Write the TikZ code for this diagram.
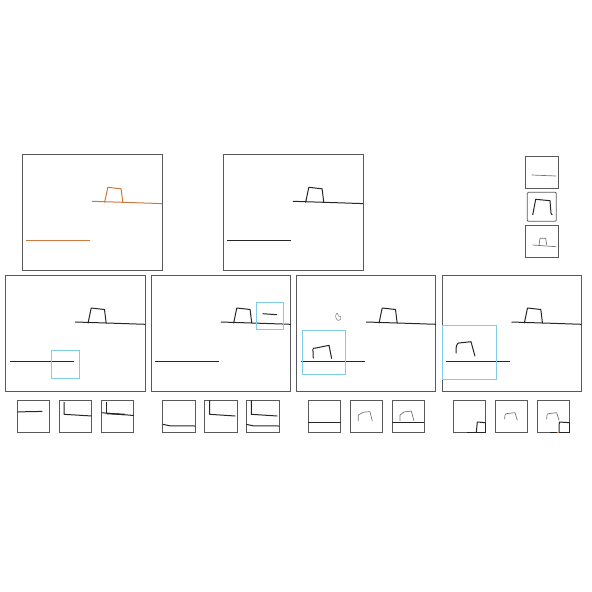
\documentclass[tikz,border=0pt]{standalone}
\begin{document}
\begin{tikzpicture}[x=1pt,y=-1pt,
  frame/.style={draw=black!65,line width=0.9pt},
  sbox/.style={draw=black!65,line width=0.8pt},
  ink/.style={draw=black!85,line width=1pt,line join=round},
  lite/.style={draw=black!55,line width=0.7pt,line join=round},
  pics/scene/.style={code={
    \draw[ink,#1] (69.5,47) -- (110,48.3) -- (139.5,49.3);
    \draw[ink,#1] (82.3,48.3) -- (85.5,33) -- (98.8,34.5) -- (100.5,48.3);
    \draw[ink,#1] (4,86) -- (68,86);
  }}]
\useasboundingbox (0,0) rectangle (592,592);
\definecolor{orng}{RGB}{205,120,60}
\definecolor{selc}{RGB}{125,205,235}
% top row
\draw[frame] (22.3,154.3) rectangle ++(139.7,115.7);
\pic[shift={(22.3,154.3)}] {scene={draw=orng}};
\draw[frame] (223.3,154.3) rectangle ++(139.7,115.7);
\pic[shift={(223.3,154.3)}] {scene={}};
% top-right small boxes
\draw[sbox] (525.3,156) rectangle (558,188.7);
\draw[lite] (531.7,175) -- (556,176);
\draw[sbox,rounded corners=1pt] (527.3,192.3) rectangle (556.3,221.3);
\draw[ink] (532.7,215) -- (535.7,199.3) -- (550,200.7) -- (551,213.3) -- (552.3,215);
\draw[sbox] (525.3,225.3) rectangle (558,257.3);
\draw[lite] (532.7,245) -- (556,246.7);
\draw[lite] (539,245) -- (540,238.3) -- (545.7,238.3) -- (546.7,245);
% bottom frames
\draw[frame] (5.7,275) rectangle ++(139.6,116);
\pic[shift={(5.7,275)}] {scene={}};
\draw[ink,line width=1.8pt] (58.3,361.5) -- (73.3,361.5);
\draw[draw=selc,line width=1pt] (51.7,350.3) rectangle (79.7,378.3);
\draw[frame] (151.3,275) rectangle ++(139,116);
\pic[shift={(151.3,275)}] {scene={}};
\draw[ink] (262.7,313.7) -- (277,314.7);
\draw[draw=selc,line width=1pt] (256.7,302.7) rectangle (283.7,329.7);
\draw[frame] (296.7,275) rectangle ++(139,116);
\pic[shift={(296.7,275)}] {scene={}};
\draw[ink] (313.3,358.3) -- (312.9,349.3) .. controls (313.5,348) .. (316,348) -- (329,345.3) -- (331.7,358.7);
\draw[draw=selc,line width=1pt] (302.3,330.7) rectangle (345.7,374);
% cursor
\draw[black!45,line width=0.6pt] (336,314.5) .. controls (335,316) and (336,320) .. (338.5,320.5) .. controls (341,320.5) and (341.5,318) .. (340.5,316.5) -- (338.5,316) -- (337.5,313.5) .. controls (337,313) and (336.3,313.5) .. (336,314.5);
\draw[frame] (442,275) rectangle ++(139.3,116);
\pic[shift={(442,275)}] {scene={}};
\draw[ink] (456,353.3) -- (456.3,346) .. controls (457.5,343) .. (461.7,342.7) -- (471,341.7) -- (475,356.3);
\draw[draw=selc,line width=1pt] (442.3,325.3) rectangle (496.3,379.3);
% bottom small boxes, group 1
\draw[sbox] (17.3,400) rectangle (49.7,432.7);
\draw[ink] (17.3,411.9) -- (42.3,411.4);
\draw[sbox] (59.3,400) rectangle (91.7,432.7);
\draw[ink] (64,402) -- (64,414.3) -- (91.7,416);
\draw[sbox] (101.3,400) rectangle (133.7,432.7);
\draw[ink] (106.3,402) -- (106.3,412.7);
\draw[ink] (101.3,412.7) -- (133.7,415.5);
\draw[ink,line width=1.4pt] (106.3,413.5) -- (125,414.5);
% group 2
\draw[sbox] (162.7,400) rectangle (195,432.7);
\draw[ink] (162.7,424.3) -- (170,425.8) -- (195,426);
\draw[sbox] (204.3,400) rectangle (237,432.7);
\draw[ink] (209.7,400) -- (209.7,414.3) -- (235.3,416);
\draw[sbox] (246.3,400) rectangle (279,432.7);
\draw[ink] (251.3,400) -- (251.3,414.3) -- (277.3,416);
\draw[ink] (246.3,424.3) -- (253,425.8) -- (279,426);
% group 3
\draw[sbox] (308.3,400) rectangle (340.7,432.7);
\draw[ink] (308.3,422.7) -- (340.7,422.7);
\draw[sbox] (350,400) rectangle (382.7,432.7);
\draw[lite] (358.3,421) -- (358.3,415) -- (363.3,412.2) -- (370,411.7) -- (372.3,421);
\draw[sbox] (392,400) rectangle (424.3,432.7);
\draw[ink] (392,422.7) -- (424.3,422.7);
\draw[lite] (400,421) -- (400,415) -- (404,412) -- (411.3,411) -- (414,421);
% group 4
\draw[sbox] (453.3,400) rectangle (485.7,432.7);
\draw[ink] (476.3,432.7) -- (477.3,422) -- (485.7,422.7);
\draw[ink,line width=1.4pt] (485.2,422.7) -- (485.2,432.2) -- (467.3,432.2);
\draw[sbox] (495.3,400) rectangle (527.7,432.7);
\draw[lite] (504.7,419.3) -- (504.9,415.5) .. controls (505.3,413.8) .. (507.5,413.5) -- (515,412.7) -- (517.3,420.3);
\draw[sbox] (537.3,400) rectangle (569.7,432.7);
\draw[lite] (546.7,419.3) -- (546.9,415.5) .. controls (547.3,413.8) .. (549.5,413.5) -- (556.7,412.7) -- (559,420.3);
\draw[ink] (559,432.7) -- (559.3,422) -- (569.7,422.7);
\draw[ink,line width=1.4pt] (569.2,422.7) -- (569.2,432.2) -- (550,432.2);
\draw[orng,line width=1pt] (556.5,432.2) -- (558.5,432.2);
\end{tikzpicture}
\end{document}
